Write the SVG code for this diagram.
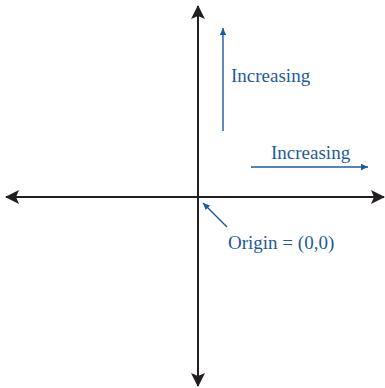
<svg xmlns="http://www.w3.org/2000/svg" width="385" height="388" viewBox="0 0 385 388">
<defs>
<style>
.axis{stroke:#231f20;stroke-width:2;fill:none}
.blue{stroke:#1f5b98;stroke-width:1.4;fill:none}
.lbl{font-family:"Liberation Serif",serif;font-size:19px;fill:#1f5b98}
</style>
<marker id="ah" markerWidth="14" markerHeight="14" refX="13" refY="7" orient="auto" markerUnits="userSpaceOnUse">
<path d="M0,0 L14,7 L0,14 L3,7 Z" fill="#231f20"/>
</marker>
<marker id="bh" markerWidth="8" markerHeight="8" refX="7" refY="4" orient="auto" markerUnits="userSpaceOnUse">
<path d="M0,0.8 L7,4 L0,7.2 Z" fill="#1f5b98"/>
</marker>
</defs>
<g id="connectors">
<line class="axis" x1="198" y1="197" x2="198" y2="6" marker-end="url(#ah)"/>
<line class="axis" x1="198" y1="197" x2="198" y2="386" marker-end="url(#ah)"/>
<line class="axis" x1="198" y1="197" x2="6" y2="197" marker-end="url(#ah)"/>
<line class="axis" x1="198" y1="197" x2="384" y2="197" marker-end="url(#ah)"/>
<line class="blue" x1="223" y1="131" x2="223" y2="28" marker-end="url(#bh)"/>
<line class="blue" x1="251" y1="167" x2="368" y2="167" marker-end="url(#bh)"/>
<line class="blue" x1="227" y1="227" x2="203" y2="203" marker-end="url(#bh)"/>
</g>
<g id="label-vertical"><text class="lbl" x="231" y="82">Increasing</text></g>
<g id="label-horizontal"><text class="lbl" x="271" y="159">Increasing</text></g>
<g id="label-origin"><text class="lbl" x="228" y="249">Origin = (0,0)</text></g>
</svg>
